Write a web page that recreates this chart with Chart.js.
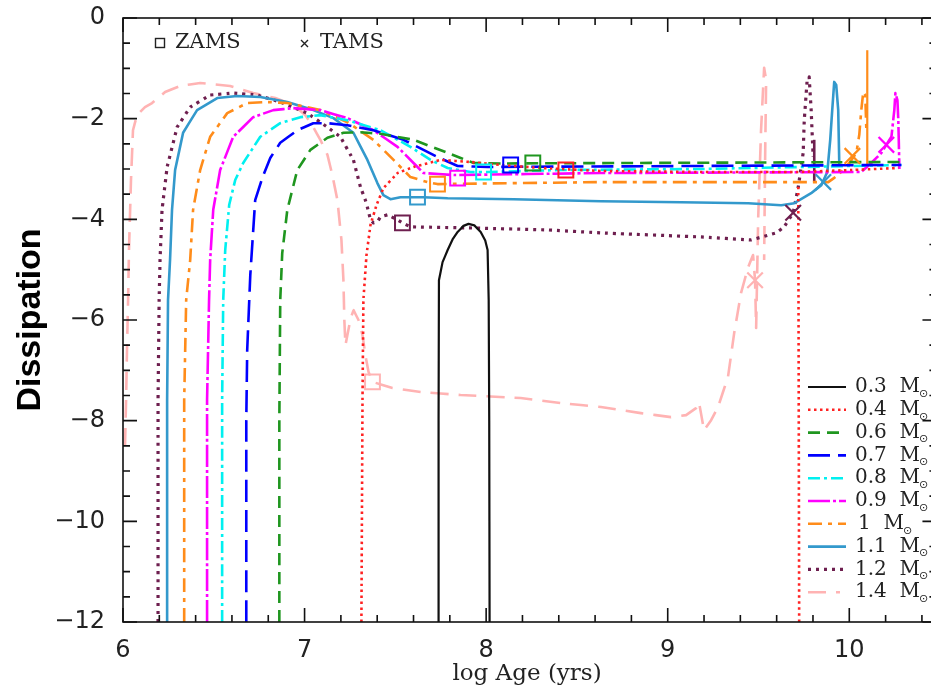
<!DOCTYPE html>
<html><head><meta charset="utf-8">
<script src="https://cdn.jsdelivr.net/npm/chart.js@4.4.0/dist/chart.umd.min.js"></script>
<style>html,body{margin:0;padding:0;background:#fff;overflow:hidden}#wrap{width:931px;height:690px}canvas{display:block}</style>
</head><body><div id="wrap"><canvas id="c" width="931" height="690"></canvas></div>
<script>
// ---------- DATA (log Age [yrs], Dissipation) ----------
const masses = ['0.3','0.4','0.6','0.7','0.8','0.9','1','1.1','1.2','1.4'];
const xTicks = [6,7,8,9,10];
const yTicks = [0,-2,-4,-6,-8,-10,-12];

const m03X = [7.738,7.738,7.740,7.760,7.788,7.815,7.843,7.875,7.903,7.935,7.970,7.995,8.008,8.014,8.017,8.019];
const m03Y = [-12,-8,-5.21,-4.85,-4.61,-4.40,-4.25,-4.13,-4.09,-4.12,-4.25,-4.42,-4.61,-5.6,-8,-12];

const m04X = [7.313,7.319,7.324,7.341,7.363,7.396,7.434,7.512,7.600,7.749,7.914,8.080,8.301,8.632,9.183,9.719,10.011,10.270];
const m04Y = [-12,-7.59,-5.60,-4.71,-4.11,-3.72,-3.38,-3.08,-2.96,-2.82,-2.86,-2.92,-2.98,-3.04,-3.06,-3.06,-3.02,-2.98];
const m04DropX = [9.719,9.724];
const m04DropY = [-3.36,-12];

const m06X = [6.861,6.861,6.866,6.877,6.905,6.960,7.032,7.126,7.214,7.308,7.418,7.600,7.788,7.931,8.080,10.287];
const m06Y = [-12,-7.99,-5.60,-4.67,-3.81,-3.02,-2.62,-2.38,-2.28,-2.27,-2.30,-2.42,-2.68,-2.88,-2.89,-2.86];

const m07X = [6.679,6.679,6.684,6.701,6.728,6.767,6.811,6.866,6.960,7.048,7.126,7.236,7.379,7.545,7.732,7.843,8.008,10.287];
const m07Y = [-12,-7.99,-6.60,-5.11,-3.62,-3.18,-2.78,-2.48,-2.23,-2.09,-2.09,-2.13,-2.23,-2.42,-2.76,-2.94,-2.96,-2.92];

const m08X = [6.546,6.546,6.552,6.563,6.585,6.618,6.662,6.756,6.866,6.977,7.087,7.236,7.418,7.583,7.694,7.788,7.914,8.008,8.411,9.183,10.287];
const m08Y = [-12,-7.59,-5.60,-4.61,-3.71,-3.22,-2.88,-2.36,-2.09,-1.97,-1.93,-2.03,-2.23,-2.56,-2.82,-2.98,-3.06,-3.06,-3.02,-3.00,-2.92];

const m09X = [6.463,6.463,6.474,6.480,6.497,6.535,6.607,6.717,6.828,6.938,7.087,7.236,7.379,7.512,7.600,7.655,7.821,8.632,10.066,10.121,10.177,10.204,10.232,10.248,10.254,10.265,10.270,10.276];
const m09Y = [-12,-7.59,-5.60,-4.81,-3.81,-3.02,-2.36,-1.97,-1.83,-1.79,-1.83,-1.99,-2.23,-2.56,-2.88,-3.08,-3.12,-3.08,-3.06,-2.88,-2.68,-2.52,-2.36,-1.83,-1.49,-1.63,-2.03,-3.00];

const m10X = [6.337,6.337,6.348,6.370,6.386,6.425,6.480,6.574,6.684,6.794,6.905,7.087,7.236,7.379,7.490,7.583,7.677,7.732,8.632,9.884,9.939,10.000,10.039,10.055,10.066,10.077,10.088,10.094];
const m10Y = [-12,-7.59,-5.60,-4.81,-3.81,-3.02,-2.36,-1.89,-1.69,-1.67,-1.69,-1.83,-2.07,-2.42,-2.82,-3.16,-3.26,-3.30,-3.26,-3.26,-3.12,-2.88,-2.68,-2.32,-1.83,-1.47,-1.53,-2.23];
const m10SpikeX = [10.099,10.099];
const m10SpikeY = [-2.96,-0.64];

const m11X = [6.243,6.243,6.248,6.259,6.270,6.287,6.331,6.408,6.519,6.629,6.756,6.905,7.048,7.159,7.269,7.346,7.401,7.434,7.473,7.528,7.655,7.788,8.152,8.632,9.073,9.443,9.625,9.697,9.790,9.846,9.879,9.895,9.906,9.917,9.928,9.939,9.945];
const m11Y = [-12,-7.59,-5.60,-4.81,-3.81,-3.02,-2.28,-1.83,-1.59,-1.55,-1.57,-1.67,-1.83,-1.99,-2.28,-2.82,-3.28,-3.52,-3.60,-3.56,-3.56,-3.58,-3.60,-3.64,-3.66,-3.68,-3.72,-3.68,-3.48,-3.32,-3.06,-2.42,-1.83,-1.27,-1.33,-1.83,-2.92];

const m12X = [6.193,6.193,6.199,6.204,6.215,6.243,6.298,6.370,6.480,6.607,6.739,6.866,7.015,7.126,7.197,7.269,7.308,7.335,7.346,7.363,7.379,7.401,7.418,7.457,7.512,7.539,7.583,7.898,8.339,8.632,9.183,9.459,9.597,9.641,9.691,9.719,9.746,9.752,9.768,9.779,9.790,9.801];
const m12Y = [-12,-7.59,-5.60,-4.81,-3.81,-2.96,-2.17,-1.77,-1.53,-1.49,-1.53,-1.67,-1.89,-2.17,-2.36,-2.82,-3.36,-3.62,-3.76,-4.01,-4.07,-4.05,-3.95,-3.91,-4.01,-4.07,-4.15,-4.17,-4.21,-4.27,-4.35,-4.41,-4.27,-4.15,-3.87,-3.36,-2.68,-2.03,-1.23,-1.17,-1.83,-2.76];
const m12BarX = [9.807,9.807];
const m12BarY = [-2.42,-3.26];

const m14X = [6.011,6.017,6.022,6.028,6.033,6.044,6.055,6.077,6.121,6.160,6.232,6.314,6.425,6.590,6.717,6.839,6.938,7.004,7.048,7.087,7.126,7.153,7.181,7.203,7.214,7.219,7.225,7.252,7.269,7.297,7.319,7.335,7.352,7.374,7.484,7.639,7.859,8.190,8.411,8.632,8.852,9.018,9.101,9.156,9.172,9.200,9.239,9.277,9.332,9.366,9.404,9.443,9.470,9.481,9.487,9.492,9.498,9.514,9.531,9.542,9.537,9.531];
const m14Y = [-8.50,-7.59,-6.60,-5.60,-4.61,-3.22,-2.23,-1.93,-1.77,-1.69,-1.47,-1.35,-1.29,-1.35,-1.49,-1.59,-1.73,-1.93,-2.17,-2.42,-2.72,-3.12,-3.62,-4.41,-5.21,-6.00,-6.50,-6.00,-5.80,-6.00,-6.30,-6.70,-7.03,-7.23,-7.35,-7.43,-7.49,-7.55,-7.65,-7.73,-7.85,-7.93,-7.89,-7.75,-7.63,-8.19,-7.99,-7.73,-7.13,-6.26,-5.46,-4.95,-4.71,-5.21,-6.16,-5.21,-4.01,-2.23,-0.99,-1.23,-2.62,-4.81];

const zamsMass = ['0.4','0.6','0.7','0.8','0.9','1','1.1','1.2','1.4'];
const zamsX = [8.439,8.257,8.135,7.986,7.843,7.732,7.622,7.539,7.374];
const zamsY = [-3.02,-2.88,-2.92,-3.06,-3.18,-3.30,-3.56,-4.07,-7.23];

const tamsMass = ['0.9','1','1.1','1.2','1.4'];
const tamsX = [10.204,10.017,9.857,9.691,9.481];
const tamsY = [-2.52,-2.74,-3.26,-3.87,-5.21];

// ---------- STYLES ----------
const style = {
  '0.3': {color:'#111111', dash:[], width:2.2},
  '0.4': {color:'#FF2222', dash:[2.5,3.5], width:2.6},
  '0.6': {color:'#1F961F', dash:[12,7], width:2.6},
  '0.7': {color:'#0000FF', dash:[22,8], width:2.6},
  '0.8': {color:'#00F0F0', dash:[12,4,3,4], width:2.6},
  '0.9': {color:'#FF00FF', dash:[22,3,3,3], width:2.6},
  '1':   {color:'#FF8C1A', dash:[14,6,4,6], width:2.6},
  '1.1': {color:'#3399CC', dash:[], width:2.6},
  '1.2': {color:'#6E1F4F', dash:[3,5], width:3.2},
  '1.4': {color:'#FFB3B3', dash:[18,10], width:2.6}
};
const pts = (xs, ys) => xs.map((x, i) => ({x: x, y: ys[i]}));
const tracks = {'0.3':[m03X,m03Y],'0.4':[m04X,m04Y],'0.6':[m06X,m06Y],'0.7':[m07X,m07Y],'0.8':[m08X,m08Y],
  '0.9':[m09X,m09Y],'1':[m10X,m10Y],'1.1':[m11X,m11Y],'1.2':[m12X,m12Y],'1.4':[m14X,m14Y]};

const lineDs = (data, s, order, dashOverride) => ({
  data: data, showLine: true, pointRadius: 0, pointHoverRadius: 0, borderColor: s.color,
  borderWidth: s.width, borderDash: dashOverride || s.dash, fill: false, tension: 0.0001,
  borderJoinStyle: 'round', order: order
});

const datasets = [];
masses.forEach((m, i) => {
  const [xs, ys] = tracks[m];
  datasets.push(Object.assign(lineDs(pts(xs, ys), style[m], 2 + i), {label: m + ' M\u2299'}));
});
datasets.push(lineDs(pts(m04DropX, m04DropY), style['0.4'], 3));
datasets.push(lineDs(pts(m10SpikeX, m10SpikeY), {color: style['1'].color, width: 2.2}, 8, []));
datasets.push(lineDs(pts(m12BarX, m12BarY), {color: style['1.2'].color, width: 2.6}, 10, []));
datasets.push({
  data: pts(zamsX, zamsY), showLine: false, pointStyle: 'rect', pointRadius: 10.5,
  pointBorderColor: zamsMass.map(m => style[m].color), pointBackgroundColor: 'rgba(0,0,0,0)',
  pointBorderWidth: 2, order: 0
});
datasets.push({
  data: pts(tamsX, tamsY), showLine: false, pointStyle: 'crossRot', pointRadius: 11,
  pointBorderColor: tamsMass.map(m => style[m].color), pointBackgroundColor: 'rgba(0,0,0,0)',
  pointBorderWidth: 2.2, order: 0
});

// ---------- PLUGINS (frame with inward ticks, legends) ----------
const framePlugin = {
  id: 'frameTicks',
  afterDraw(chart) {
    const {ctx, scales: {x, y}} = chart;
    const L = x.getPixelForValue(6), R = x.getPixelForValue(10.48);
    const T = y.getPixelForValue(0), B = y.getPixelForValue(-12);
    ctx.save();
    ctx.strokeStyle = '#111'; ctx.lineWidth = 1.6; ctx.setLineDash([]);
    ctx.strokeRect(L, T, R - L, B - T);
    ctx.beginPath();
    for (let k = 0; k <= 22; k++) {
      const px = x.getPixelForValue(6 + k * 0.2);
      const len = (k % 5 === 0) ? 14 : 7;
      ctx.moveTo(px, B); ctx.lineTo(px, B - len);
      ctx.moveTo(px, T); ctx.lineTo(px, T + len);
    }
    for (let k = 0; k <= 24; k++) {
      const py = y.getPixelForValue(-k * 0.5);
      const len = (k % 4 === 0) ? 14 : 7;
      ctx.moveTo(L, py); ctx.lineTo(L + len, py);
      ctx.moveTo(R, py); ctx.lineTo(R - len, py);
    }
    ctx.stroke();

    // top-left marker key
    ctx.fillStyle = '#222'; ctx.strokeStyle = '#222'; ctx.lineWidth = 1.4;
    ctx.font = '21px "DejaVu Serif"'; ctx.textBaseline = 'middle'; ctx.textAlign = 'left';
    ctx.strokeRect(155.5, 38.5, 9, 9);
    ctx.fillText('ZAMS', 175, 43);
    ctx.beginPath();
    ctx.moveTo(301, 40); ctx.lineTo(308, 47); ctx.moveTo(308, 40); ctx.lineTo(301, 47);
    ctx.stroke();
    ctx.fillText('TAMS', 320, 43);

    // line legend
    const lx0 = 808, lx1 = 846, ly0 = 387, ldy = 22.8;
    masses.forEach((m, i) => {
      const s = style[m], yy = ly0 + i * ldy;
      ctx.strokeStyle = s.color; ctx.lineWidth = s.width; ctx.setLineDash(s.dash);
      ctx.beginPath(); ctx.moveTo(lx0, yy); ctx.lineTo(m === '1.4' ? lx1 - 6 : lx1, yy); ctx.stroke();
      ctx.setLineDash([]);
      ctx.fillStyle = '#222';
      ctx.font = '20px "DejaVu Serif"';
      const txt = m + '  M';
      const tx = m === '1' ? 858 : 855;
      ctx.fillText(txt, tx, yy);
      const w = ctx.measureText(txt).width;
      ctx.font = '11px "DejaVu Sans"';
      ctx.fillText('\u2299', tx + w - 1, yy + 7);
    });
    ctx.restore();
  }
};

new Chart(document.getElementById('c'), {
  type: 'scatter',
  data: {datasets: datasets},
  options: {
    responsive: false, animation: false, devicePixelRatio: 1,
    layout: {autoPadding: false, padding: {top: 18, right: 0, bottom: 0, left: 0}},
    plugins: {legend: {display: false}, tooltip: {enabled: false}},
    scales: {
      x: {
        type: 'linear', min: 6, max: 10.45,
        afterFit(s) { s.height = 68; s.paddingLeft = 0; s.paddingRight = 0; },
        grid: {display: false}, border: {display: false},
        ticks: {
          includeBounds: false, stepSize: 1, padding: 6, color: '#222',
          font: {family: 'DejaVu Sans', size: 24},
          callback: v => xTicks.includes(v) ? String(v) : ''
        },
        title: {display: true, text: 'log Age (yrs)', color: '#222',
          font: {family: 'DejaVu Serif', size: 23}, padding: {top: 0, bottom: 2}}
      },
      y: {
        type: 'linear', min: -12, max: 0,
        afterFit(s) { s.width = 123; s.paddingTop = 0; s.paddingBottom = 0; },
        grid: {display: false}, border: {display: false},
        ticks: {
          includeBounds: false, stepSize: 2, padding: 10, color: '#222',
          font: {family: 'DejaVu Sans', size: 24},
          callback: v => yTicks.includes(v) ? String(v).replace('-', '\u2212') : ''
        },
        title: {display: true, text: 'Dissipation', color: '#000',
          font: {family: 'Liberation Sans', size: 34, weight: 'bold'}, padding: {top: 10, bottom: 0}}
      }
    }
  },
  plugins: [framePlugin]
});
</script>
</body></html>
